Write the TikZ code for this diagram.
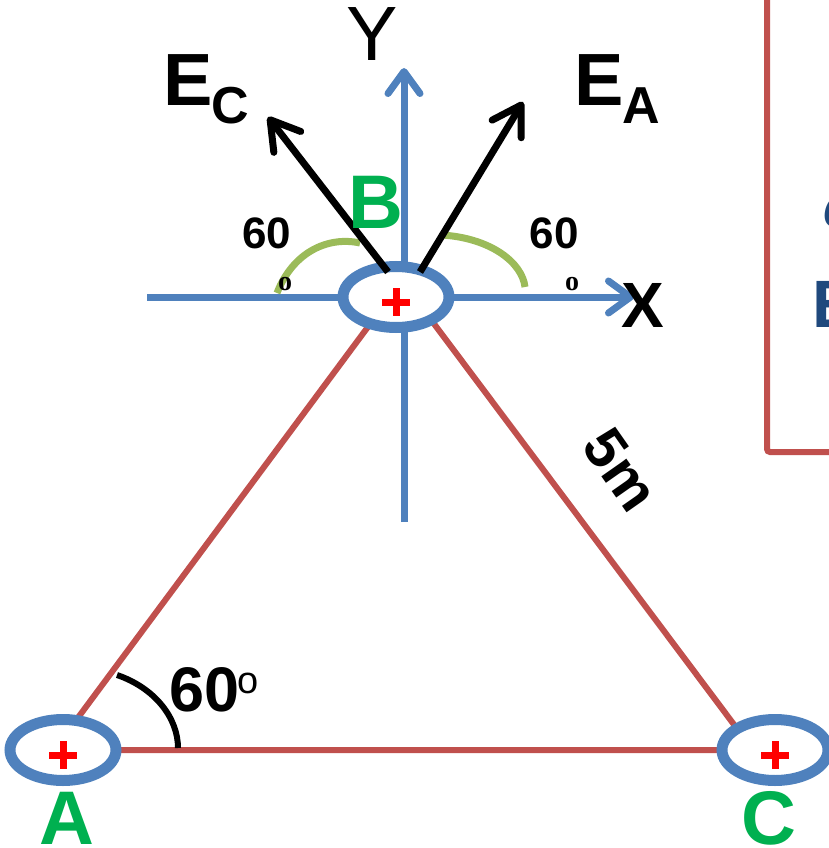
\documentclass[tikz,border=0pt]{standalone}
\usepackage{fontspec}
\setmainfont{Liberation Sans}
\newfontfamily\serifbold{Liberation Serif}
\usetikzlibrary{shapes.geometric,arrows.meta,calc}
\definecolor{axblue}{HTML}{4F81BD}
\definecolor{trired}{HTML}{C0504D}
\definecolor{lblgreen}{HTML}{00B050}
\definecolor{arcgreen}{HTML}{9BBB59}
\definecolor{dkblue}{HTML}{1F497D}
\newcommand\fsz[1]{\fontsize{#1}{#1}\selectfont}
\begin{document}
\begin{tikzpicture}[x=1pt,y=-1pt,
  tri/.style={draw=trired, line width=6pt},
  axisln/.style={draw=axblue, line width=7pt, -{Straight Barb[length=22pt,width=32pt,round]}},
  axisplain/.style={draw=axblue, line width=7pt},
  charge/.style={ellipse, draw=axblue, fill=white, line width=11pt, minimum width=106pt, minimum height=61pt, inner sep=0pt},
  plusst/.style={draw=red, line width=7pt},
  garc/.style={draw=arcgreen, line width=7pt},
  evec/.style={draw=black, line width=7pt, -{Straight Barb[length=28pt,width=34pt,round]}},
  lbl/.style={text=lblgreen, font=\fsz{76}\bfseries, inner sep=0pt},
  txt/.style={inner sep=0pt}]
\useasboundingbox (0,0) rectangle (829,848);
\clip (0,0) rectangle (829,848);

% triangle
\coordinate (tA) at (54,750);
\coordinate (tB) at (402,281);
\coordinate (tC) at (753,750);
\draw[tri] (tA) -- (tB) -- (tC) -- cycle;

% axes
\coordinate (xs) at (147,297);
\coordinate (xe) at (634,297);
\coordinate (ys) at (404,522);
\coordinate (ye) at (404,68);
\draw[axisln] (xs) -- (xe);
\draw[axisln] (ys) -- (ye);

% charges
\node[charge] (A) at (63,750) {};
\node[charge] (B) at (396,297) {};
\node[charge] (C) at (775,750) {};
\foreach \n in {A,B,C}{
  \draw[plusst] ($(\n)+(-14,5)$) -- ++(28,0);
  \draw[plusst] ($(\n)+(0,-9)$) -- ++(0,28);
}

% green angle arcs
\draw[garc] (277,293) .. controls (293,252) and (328,236) .. (360,243);
\draw[garc] (442,235) .. controls (490,238) and (522,262) .. (525,287);

% field vectors
\coordinate (ecs) at (388,272);
\coordinate (ece) at (268,117);
\coordinate (eas) at (420,272);
\coordinate (eae) at (523,102);
\draw[evec] (ecs) -- (ece);
\draw[evec] (eas) -- (eae);

% angle arc at A
\draw[line width=6pt] (117,675) .. controls (155,688) and (178,718) .. (178,748);

% right box
\draw[draw=trired, line width=6pt, rounded corners=3pt] (767,-20) -- (767,452) -- (850,452);
\node[txt, anchor=west, text=dkblue, font=\fsz{60}] (dpart) at (823,205) {∂};
\node[txt, anchor=west, text=dkblue, font=\fsz{67}\bfseries] (epart) at (812,304) {E};

% labels
\node[lbl] (la) at (67,818) {A};
\node[lbl] (lb) at (376,202) {B};
\node[lbl] (lc) at (769,818) {C};
\node[txt, font=\fsz{64}\bfseries] (lx) at (643,305) {X};
\node[txt, font=\fsz{77}] (ly) at (372,34) {Y};
\node[txt, font=\fsz{74}\bfseries] (ec1) at (188,80) {E};
\node[txt, font=\fsz{52}\bfseries] (ec2) at (230,106) {C};
\node[txt, font=\fsz{74}\bfseries] (ea1) at (599,80) {E};
\node[txt, font=\fsz{52}\bfseries] (ea2) at (641,106) {A};
\node[txt, font=\fsz{44}\bfseries] (s1) at (267,233) {60};
\node[txt, font=\fsz{44}\bfseries] (s2) at (554,233) {60};
\node[txt, font=\serifbold\fsz{28}\bfseries] (o1) at (285,284) {o};
\node[txt, font=\serifbold\fsz{28}\bfseries] (o2) at (572,284) {o};
\node[txt, font=\fsz{63}\bfseries] (s3) at (205,690) {60};
\node[txt, font=\fsz{38}] (o3) at (248,683) {o};
\node[txt, font=\fsz{58}\bfseries, rotate=-55] (len) at (621,470) {5m};
\end{tikzpicture}
\end{document}
